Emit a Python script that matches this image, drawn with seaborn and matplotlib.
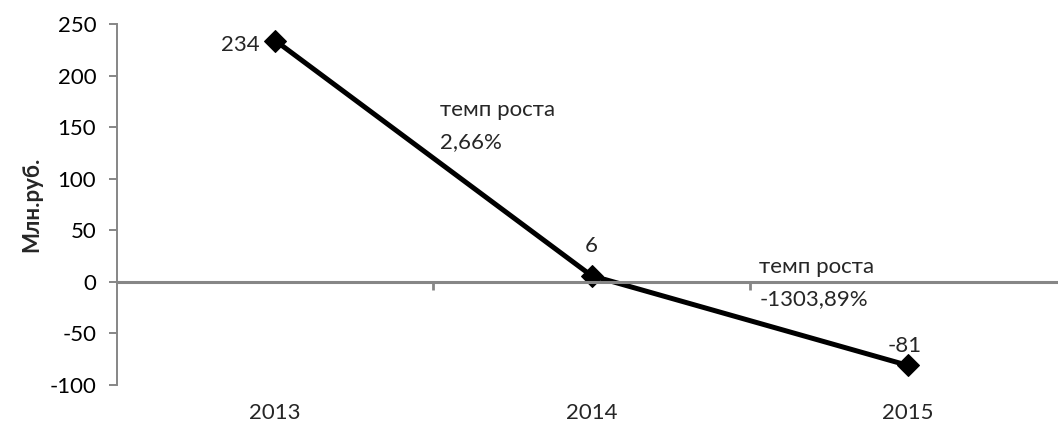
import matplotlib
matplotlib.use("Agg")
import matplotlib.pyplot as plt
import matplotlib.transforms as mtransforms
import seaborn as sns
import pandas as pd

years = ["2013", "2014", "2015"]
values = [234, 6, -81]
growth_labels = ["темп роста\n2,66%", "темп роста\n-1303,89%"]
y_ticks = [-100, -50, 0, 50, 100, 150, 200, 250]
y_label = "Млн.руб."

sns.set_theme(style="white")
plt.rcParams["font.family"] = ["Lato", "DejaVu Sans"]

df = pd.DataFrame({"idx": range(len(years)), "value": values})

fig = plt.figure(figsize=(10.58, 4.30), dpi=100)
ax = fig.add_axes([117 / 1058, 1 - 385 / 430, (1066 - 117) / 1058, (385 - 24) / 430])

sns.lineplot(data=df, x="idx", y="value", ax=ax, color="black", linewidth=3.6,
             marker="D", markersize=11, markeredgecolor="black", clip_on=False)

ax.set_xlim(-0.5, len(years) - 0.5)
ax.set_ylim(-100, 250)
ax.set_yticks(y_ticks)
ax.set_yticklabels([str(t) for t in y_ticks])

grey = "#868686"
for s in ["top", "right"]:
    ax.spines[s].set_visible(False)
ax.spines["left"].set_color(grey)
ax.spines["left"].set_linewidth(1.4)
ax.spines["bottom"].set_position(("data", 0))
ax.spines["bottom"].set_color(grey)
ax.spines["bottom"].set_linewidth(2.2)
ax.set_xticks([i + 0.5 for i in range(len(years) - 1)])
ax.set_xticklabels([])
ax.tick_params(axis="x", direction="out", length=6, width=2, color=grey, bottom=True)
ax.tick_params(axis="y", direction="out", length=6, width=1.4, color=grey, left=True,
               labelsize=16, pad=9, labelcolor="black")
ax.set_xlabel("")
ax.set_ylabel(y_label, fontsize=16, fontweight="bold", labelpad=5)

trans = mtransforms.blended_transform_factory(ax.transData, ax.transAxes)
for i, y in enumerate(years):
    ax.text(i, -0.05, y, transform=trans, ha="center", va="top", fontsize=16)

# data labels
ax.annotate(str(values[0]), (0, values[0]), xytext=(-11, -3), textcoords="offset points",
            ha="right", va="center", fontsize=16)
ax.annotate(str(values[1]), (1, values[1]), xytext=(0, 14), textcoords="offset points",
            ha="center", va="bottom", fontsize=16)
ax.annotate(str(values[2]), (2, values[2]), xytext=(-2, 7), textcoords="offset points",
            ha="center", va="bottom", fontsize=16)

# growth annotations
ax.text(0.52, 176, growth_labels[0], ha="left", va="top", fontsize=16, linespacing=1.75)
ax.text(1.53, 24, growth_labels[1], ha="left", va="top", fontsize=16, linespacing=1.75)

fig.savefig("out.png", dpi=100)
